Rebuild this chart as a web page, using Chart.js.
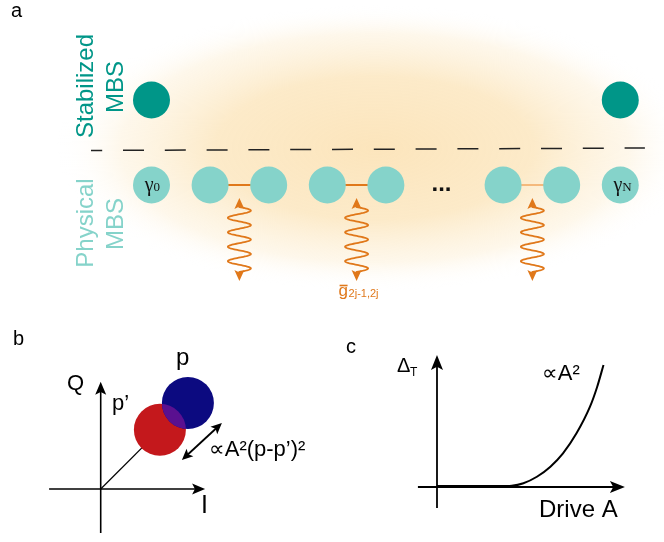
<!DOCTYPE html>
<html>
<head>
<meta charset="utf-8">
<script src="https://cdn.jsdelivr.net/npm/chart.js@4.4.1/dist/chart.umd.min.js"></script>
<style>
  body { margin: 0; background: #fff; }
  #figure { position: relative; width: 664px; height: 542px; overflow: hidden; background: #fff; }
  #figure canvas { position: absolute; }
</style>
</head>
<body>
<div id="figure">
  <canvas id="panelA" width="664" height="310" style="left:0;top:0"></canvas>
  <canvas id="panelB" width="330" height="222" style="left:0;top:320px"></canvas>
  <canvas id="panelC" width="334" height="222" style="left:330px;top:320px"></canvas>
</div>
<script>
// panel a: chain sites by index, rows 0 = physical, 1 = stabilized
const physicalSites = [0, 1, 2, 3, 4, 6, 7, 8];
const stabilizedSites = [0, 8];
const bondStart = [1, 3, 6];
const bondEnd = [2, 4, 7];
const driveSites = [1.5, 3.5, 6.5];
const edgeSites = [0, 8];
const edgeLabels = ['0', 'N'];
const ellipsisSite = 5;

// panel b: two states in the I-Q plane
const stateNames = ['p\u2019', 'p'];
const stateI = [1.48, 2.18];
const stateQ = [1.48, 2.15];

// panel c: Delta_T vs drive amplitude
const driveA = [0, 2, 3.5, 4.15, 4.8, 5.55, 6.3, 7.0, 7.75, 8.5, 8.9, 9.25];
const deltaT = [0.05, 0.05, 0.05, 0.07, 0.21, 0.57, 1.13, 1.87, 2.98, 4.46, 5.57, 6.78];

const SANS = "'Liberation Sans', Arial, 'DejaVu Sans', sans-serif";
const SERIF = "'Liberation Serif', 'DejaVu Serif', serif";
const TEAL = '#009688';
const TEAL_LIGHT = '#85d3ca';
const ORANGE = '#e0781a';
const ORANGE_LIGHT = '#f4b97c';

function baseOptions(xScale, yScale) {
    return {
        responsive: false,
        animation: false,
        events: [],
        layout: { padding: 0, autoPadding: false },
        plugins: { legend: { display: false }, tooltip: { enabled: false } },
        scales: {
            x: Object.assign({ type: 'linear', display: false }, xScale),
            y: Object.assign({ type: 'linear', display: false }, yScale)
        }
    };
}

function label(ctx, str, x, y, font, color, align) {
    ctx.save();
    ctx.font = font;
    ctx.fillStyle = color || '#000';
    ctx.textAlign = align || 'left';
    ctx.textBaseline = 'alphabetic';
    ctx.fillText(str, x, y);
    ctx.restore();
}

function vlabel(ctx, str, x, y, font, color) {
    ctx.save();
    ctx.translate(x, y);
    ctx.rotate(-Math.PI / 2);
    ctx.font = font;
    ctx.fillStyle = color;
    ctx.textAlign = 'center';
    ctx.textBaseline = 'alphabetic';
    ctx.fillText(str, 0, 0);
    ctx.restore();
}

function arrowHead(ctx, x, y, angle, len, half) {
    ctx.save();
    ctx.translate(x, y);
    ctx.rotate(angle);
    ctx.beginPath();
    ctx.moveTo(0, 0);
    ctx.lineTo(-len, -half);
    ctx.lineTo(-len * 0.78, 0);
    ctx.lineTo(-len, half);
    ctx.closePath();
    ctx.fill();
    ctx.restore();
}

function arrow(ctx, x0, y0, x1, y1, opts) {
    const a = Math.atan2(y1 - y0, x1 - x0);
    const len = opts.len, half = opts.half;
    ctx.save();
    ctx.strokeStyle = opts.color;
    ctx.fillStyle = opts.color;
    ctx.lineWidth = opts.width;
    ctx.beginPath();
    const sx = opts.both ? x0 + Math.cos(a) * len * 0.7 : x0;
    const sy = opts.both ? y0 + Math.sin(a) * len * 0.7 : y0;
    ctx.moveTo(sx, sy);
    ctx.lineTo(x1 - Math.cos(a) * len * 0.7, y1 - Math.sin(a) * len * 0.7);
    ctx.stroke();
    arrowHead(ctx, x1, y1, a, len, half);
    if (opts.both) arrowHead(ctx, x0, y0, a + Math.PI, len, half);
    ctx.restore();
}

// ---------- panel a ----------
const DRIVE_TOP = -0.153;
const DRIVE_BOTTOM = -1.13;

const panelAPlugin = {
    id: 'panelADecor',
    beforeDatasetsDraw(chart) {
        const ctx = chart.ctx;
        ctx.save();
        ctx.translate(375, 148);
        ctx.scale(1, 0.45);
        const g = ctx.createRadialGradient(0, 0, 0, 0, 0, 318);
        g.addColorStop(0, 'rgba(252,229,188,1)');
        g.addColorStop(0.5, 'rgba(252,232,195,0.9)');
        g.addColorStop(0.8, 'rgba(253,240,215,0.5)');
        g.addColorStop(1, 'rgba(255,255,255,0)');
        ctx.fillStyle = g;
        ctx.beginPath();
        ctx.arc(0, 0, 318, 0, Math.PI * 2);
        ctx.fill();
        ctx.restore();
    },
    afterDatasetsDraw(chart) {
        const ctx = chart.ctx;
        const xs = chart.scales.x, ys = chart.scales.y;
        const top = ys.getPixelForValue(DRIVE_TOP);
        const bottom = ys.getPixelForValue(DRIVE_BOTTOM);

        driveSites.forEach(s => {
            const cx = xs.getPixelForValue(s);
            const y0 = top + 9, y1 = bottom - 9;
            ctx.save();
            ctx.strokeStyle = ORANGE;
            ctx.fillStyle = ORANGE;
            ctx.lineWidth = 1.8;
            ctx.beginPath();
            ctx.moveTo(cx, y0 - 2);
            for (let i = 0; i <= 200; i++) {
                const t = i / 200;
                ctx.lineTo(cx + 11.5 * Math.sin(2 * Math.PI * 4.5 * t), y0 + (y1 - y0) * t);
            }
            ctx.lineTo(cx, y1 + 2);
            ctx.stroke();
            arrowHead(ctx, cx, top, -Math.PI / 2, 11, 5);
            arrowHead(ctx, cx, bottom, Math.PI / 2, 11, 5);
            ctx.restore();
        });

        // gamma labels on the edge sites
        edgeSites.forEach((s, i) => {
            const cx = xs.getPixelForValue(s);
            const cy = ys.getPixelForValue(0);
            label(ctx, '\u03b3', cx + 2, cy + 6, '20px ' + SERIF, '#111', 'right');
            label(ctx, edgeLabels[i], cx + 2, cy + 6, '13px ' + SERIF, '#111', 'left');
        });

        // ellipsis between bonds
        label(ctx, '...', xs.getPixelForValue(ellipsisSite) - 3, ys.getPixelForValue(0) + 6,
            'bold 24px ' + SANS, '#111', 'center');

        // coupling label under the middle drive
        const gx = xs.getPixelForValue(driveSites[1]) - 18;
        label(ctx, 'g', gx, 296, '17px ' + SANS, ORANGE, 'left');
        ctx.save();
        ctx.strokeStyle = ORANGE;
        ctx.lineWidth = 1.6;
        ctx.beginPath();
        ctx.moveTo(gx + 1, 285.5);
        ctx.lineTo(gx + 9, 285.5);
        ctx.stroke();
        ctx.restore();
        label(ctx, '2j-1,2j', gx + 10, 297, '11px ' + SANS, ORANGE, 'left');

        label(ctx, 'a', 11, 17, '20px ' + SANS, '#000');
        vlabel(ctx, 'Stabilized', 93, 86, '24px ' + SANS, TEAL);
        vlabel(ctx, 'MBS', 123, 87, '24px ' + SANS, TEAL);
        vlabel(ctx, 'Physical', 93, 223, '24px ' + SANS, TEAL_LIGHT);
        vlabel(ctx, 'MBS', 123, 224, '24px ' + SANS, TEAL_LIGHT);
    }
};

window.renderPanelA = () => {
    const canvas = document.getElementById('panelA');
    if (!canvas) return false;
    const bonds = bondStart.map((s, i) => ({
        data: [{ x: s, y: 0 }, { x: bondEnd[i], y: 0 }],
        showLine: true,
        borderColor: i === bondStart.length - 1 ? ORANGE_LIGHT : ORANGE,
        borderWidth: 1.8,
        pointRadius: 0
    }));
    new Chart(canvas.getContext('2d'), {
        type: 'scatter',
        data: {
            datasets: [
                {
                    data: stabilizedSites.map(s => ({ x: s, y: 1 })),
                    pointRadius: 18.5,
                    pointBorderWidth: 0,
                    backgroundColor: TEAL,
                    clip: false
                },
                {
                    data: physicalSites.map(s => ({ x: s, y: 0 })),
                    pointRadius: 18.5,
                    pointBorderWidth: 0,
                    backgroundColor: TEAL_LIGHT,
                    clip: false
                },
                ...bonds,
                {
                    data: [{ x: -1.032, y: 0.406 }, { x: 8.42, y: 0.435 }],
                    showLine: true,
                    borderColor: '#222',
                    borderWidth: 1.5,
                    borderDash: [21, 20.8],
                    borderDashOffset: 9.8,
                    pointRadius: 0
                }
            ]
        },
        options: baseOptions({ min: -2.585, max: 8.746 }, { min: -1.4706, max: 2.1765 }),
        plugins: [panelAPlugin]
    });
    return true;
};

// ---------- panel b ----------
const axisBI = [-1.29, 2.61];
const axisBQ = [-1.1, 2.68];
const spreadFrom = [2.03, 0.725];
const spreadTo = [3.03, 1.65];

const panelBPlugin = {
    id: 'panelBDecor',
    beforeDatasetsDraw(chart) {
        const ctx = chart.ctx;
        const xs = chart.scales.x, ys = chart.scales.y;
        const ox = xs.getPixelForValue(0), oy = ys.getPixelForValue(0);
        const style = { color: '#000', width: 1.6, len: 13, half: 5.5 };
        arrow(ctx, xs.getPixelForValue(axisBI[0]), oy, xs.getPixelForValue(axisBI[1]), oy, style);
        arrow(ctx, ox, ys.getPixelForValue(axisBQ[0]), ox, ys.getPixelForValue(axisBQ[1]), style);
    },
    afterDatasetsDraw(chart) {
        const ctx = chart.ctx;
        const xs = chart.scales.x, ys = chart.scales.y;
        const r = 26;
        const rx = xs.getPixelForValue(stateI[0]), ry = ys.getPixelForValue(stateQ[0]);
        const bx = xs.getPixelForValue(stateI[1]), by = ys.getPixelForValue(stateQ[1]);
        // overlap of the two states
        ctx.save();
        ctx.beginPath();
        ctx.arc(rx, ry, r, 0, Math.PI * 2);
        ctx.clip();
        ctx.fillStyle = '#5a1090';
        ctx.beginPath();
        ctx.arc(bx, by, r, 0, Math.PI * 2);
        ctx.fill();
        ctx.restore();

        arrow(ctx, xs.getPixelForValue(spreadFrom[0]), ys.getPixelForValue(spreadFrom[1]),
            xs.getPixelForValue(spreadTo[0]), ys.getPixelForValue(spreadTo[1]),
            { color: '#000', width: 1.8, len: 11, half: 5, both: true });

        label(ctx, 'b', 13, 25, '20px ' + SANS);
        label(ctx, 'Q', 67, 70, '22px ' + SANS);
        label(ctx, 'I', 201, 193, '25px ' + SANS);
        label(ctx, stateNames[0], 112, 90, '22px ' + SANS);
        label(ctx, stateNames[1], 176, 45, '24px ' + SANS);
        label(ctx, '\u221dA\u00b2(p-p\u2019)\u00b2', 209, 136, '22px ' + SANS);
    }
};

window.renderPanelB = () => {
    const canvas = document.getElementById('panelB');
    if (!canvas) return false;
    new Chart(canvas.getContext('2d'), {
        type: 'scatter',
        data: {
            datasets: [
                {
                    data: [{ x: stateI[1], y: stateQ[1] }],
                    pointRadius: 26,
                    pointBorderWidth: 0,
                    backgroundColor: '#0c0a80',
                    clip: false
                },
                {
                    data: [{ x: stateI[0], y: stateQ[0] }],
                    pointRadius: 26,
                    pointBorderWidth: 0,
                    backgroundColor: '#c4181c',
                    clip: false
                },
                {
                    data: [{ x: 0, y: 0 }, { x: stateI[0], y: stateQ[0] }],
                    showLine: true,
                    borderColor: '#000',
                    borderWidth: 1.2,
                    pointRadius: 0
                }
            ]
        },
        options: baseOptions({ min: -2.5175, max: 5.7325 }, { min: -1.325, max: 4.225 }),
        plugins: [panelBPlugin]
    });
    return true;
};

// ---------- panel c ----------
const axisCA = [-1.06, 10.44];
const axisCD = [-1.17, 7.33];

const panelCPlugin = {
    id: 'panelCDecor',
    beforeDatasetsDraw(chart) {
        const ctx = chart.ctx;
        const xs = chart.scales.x, ys = chart.scales.y;
        const ox = xs.getPixelForValue(0), oy = ys.getPixelForValue(0);
        const style = { color: '#000', width: 1.8, len: 15, half: 6 };
        arrow(ctx, xs.getPixelForValue(axisCA[0]), oy, xs.getPixelForValue(axisCA[1]), oy, style);
        arrow(ctx, ox, ys.getPixelForValue(axisCD[0]), ox, ys.getPixelForValue(axisCD[1]), style);
    },
    afterDatasetsDraw(chart) {
        const ctx = chart.ctx;
        label(ctx, 'c', 16, 33, '20px ' + SANS);
        label(ctx, '\u0394', 67, 52, '20px ' + SANS);
        label(ctx, 'T', 80, 56, '12px ' + SANS);
        label(ctx, '\u221dA\u00b2', 212, 60, '22px ' + SANS);
        label(ctx, 'Drive A', 209, 197, '24px ' + SANS);
    }
};

window.renderPanelC = () => {
    const canvas = document.getElementById('panelC');
    if (!canvas) return false;
    new Chart(canvas.getContext('2d'), {
        type: 'line',
        data: {
            datasets: [{
                data: driveA.map((a, i) => ({ x: a, y: deltaT[i] })),
                borderColor: '#000',
                borderWidth: 2,
                pointRadius: 0,
                cubicInterpolationMode: 'monotone',
                clip: false
            }]
        },
        options: baseOptions({ min: -5.944, max: 12.611 }, { min: -3.056, max: 9.278 }),
        plugins: [panelCPlugin]
    });
    return true;
};

renderPanelA();
renderPanelB();
renderPanelC();
</script>
</body>
</html>
